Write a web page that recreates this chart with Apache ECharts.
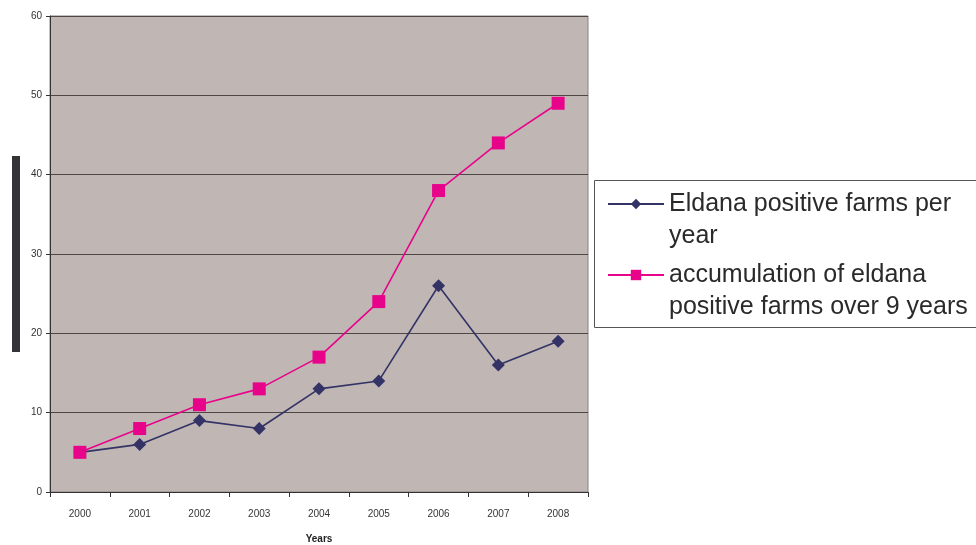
<!DOCTYPE html>
<html>
<head>
<meta charset="utf-8">
<script src="https://cdn.jsdelivr.net/npm/echarts@6/dist/echarts.min.js"></script>
<style>
html,body{margin:0;padding:0;background:#fff;}
#chart{width:976px;height:545px;}
</style>
</head>
<body>
<div id="chart"></div>
<script>
var years = ['2000','2001','2002','2003','2004','2005','2006','2007','2008'];
var perYear = [5, 6, 9, 8, 13, 14, 26, 16, 19];
var accumulated = [5, 8, 11, 13, 17, 24, 38, 44, 49];
var seriesNames = ['Eldana positive farms per year', 'accumulation of eldana positive farms over 9 years'];
var legendLabels = ['\nEldana positive farms per\nyear', '\naccumulation of eldana\npositive farms over 9 years'];

var chart = echarts.init(document.getElementById('chart'), null, {renderer: 'canvas'});
var font = 'Liberation Sans, Arial, Helvetica, sans-serif';
chart.setOption({
  animation: false,
  backgroundColor: '#ffffff',
  textStyle: {fontFamily: font},
  grid: {
    left: 50, width: 538, top: 16, height: 476,
    outerBoundsMode: 'none', containLabel: false,
    show: true, backgroundColor: '#c0b6b4', borderColor: '#8a8080', borderWidth: 1
  },
  graphic: [{
    type: 'rect', shape: {x: 12, y: 156, width: 8, height: 196},
    style: {fill: '#333338'}
  }, {
    type: 'rect', shape: {x: 594.5, y: 180.5, width: 385, height: 147},
    style: {fill: 'none', stroke: '#555555', lineWidth: 1}
  }],
  legend: {
    orient: 'vertical', left: 594, top: 146,
    padding: [10, 9, 10, 13],
    itemGap: -25, itemWidth: 56, itemHeight: 13,
    data: seriesNames,
    formatter: function (name) { return legendLabels[seriesNames.indexOf(name)]; },
    textStyle: {fontFamily: font, fontSize: 25, color: '#2a2a2a', lineHeight: 32}
  },
  xAxis: {
    type: 'category', data: years, boundaryGap: true,
    name: 'Years', nameLocation: 'middle', nameGap: 42,
    nameTextStyle: {fontFamily: font, fontSize: 10, fontWeight: 'bold', color: '#222'},
    axisLine: {lineStyle: {color: '#333', width: 1}},
    axisTick: {show: true, length: 5, interval: 0, lineStyle: {color: '#333'}},
    axisLabel: {margin: 17, fontSize: 10, color: '#333', fontFamily: font}
  },
  yAxis: {
    type: 'value', min: 0, max: 60, interval: 10,
    axisLine: {show: true, lineStyle: {color: '#333', width: 1}},
    axisTick: {show: true, length: 4, inside: false, lineStyle: {color: '#333'}},
    axisLabel: {margin: 8, fontSize: 10, color: '#333', fontFamily: font},
    splitLine: {show: true, lineStyle: {color: '#4d4747', width: 1}}
  },
  series: [{
    name: seriesNames[0], type: 'line', data: perYear,
    symbol: 'diamond', symbolSize: 13,
    lineStyle: {color: '#333366', width: 1.6},
    itemStyle: {color: '#333366'}
  }, {
    name: seriesNames[1], type: 'line', data: accumulated,
    symbol: 'rect', symbolSize: 13,
    lineStyle: {color: '#e8048a', width: 1.6},
    itemStyle: {color: '#e8048a'}
  }]
});
</script>
</body>
</html>
